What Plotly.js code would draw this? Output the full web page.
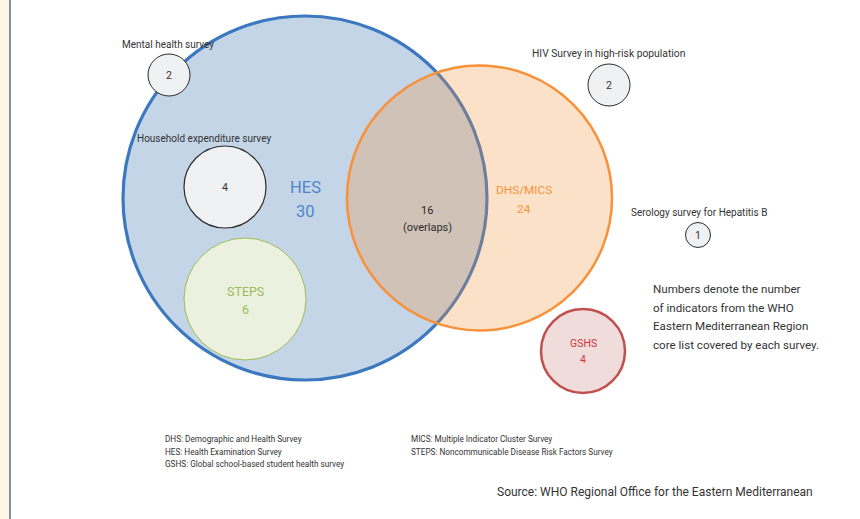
<!DOCTYPE html>
<html>
<head>
<meta charset="utf-8">
<script src="https://cdn.plot.ly/plotly-3.0.1.min.js"></script>
<style>
html,body{margin:0;padding:0;background:#ffffff;}
#chart{width:860px;height:519px;}
</style>
</head>
<body>
<div id="chart"></div>
<script>
// ---- data ----
var surveys = ["HES", "DHS/MICS", "Mental health survey", "Household expenditure survey", "STEPS", "HIV Survey in high-risk population", "Serology survey for Hepatitis B", "GSHS"];
var indicators = [30, 24, 2, 4, 6, 2, 1, 4];
var overlapCount = 16;
var overlapText = "(overlaps)";
var noteLines = ["Numbers denote the number", "of indicators from the WHO", "Eastern Mediterranean Region", "core list covered by each survey."];
var legendLeft = ["DHS: Demographic and Health Survey", "HES: Health Examination Survey", "GSHS: Global school-based student health survey"];
var legendRight = ["MICS: Multiple Indicator Cluster Survey", "STEPS: Noncommunicable Disease Risk Factors Survey"];
var sourceText = "Source: WHO Regional Office for the Eastern Mediterranean";

// ---- layout geometry (pixels) ----
var cx = [305, 479.5, 169, 225, 245, 609, 698, 583];
var cy = [198, 198, 75, 187, 299, 85, 235, 351];
var rr = [182, 132.5, 21, 41, 61, 21, 12.5, 42];
var fills = ["#c4d5e7", "rgba(245,146,60,0.28)", "#f0f1f3", "#f0f1f3", "#ebf1de", "#f0f1f3", "#f0f1f3", "#f1dcdc"];
var lines = ["#3b78bf", "#f7923a", "#2b2b2b", "#2b2b2b", "#9bbb59", "#2b2b2b", "#2b2b2b", "#c0504d"];
var lw = [3.2, 2.5, 1, 1.2, 1, 1, 1, 2.5];

var FONT = "Roboto, 'Liberation Sans', sans-serif";

var shapes = [];
// left cream strip and border line
shapes.push({type:"rect", xref:"paper", yref:"paper", x0:0, x1:9/860, y0:0, y1:1, fillcolor:"#fdf6e4", line:{width:0}, layer:"below"});
shapes.push({type:"line", xref:"paper", yref:"paper", x0:10/860, x1:10/860, y0:0, y1:1, line:{color:"#7c95a8", width:2}});
for (var i = 0; i < surveys.length; i++) {
  shapes.push({type:"circle", xref:"x", yref:"y",
    x0: cx[i]-rr[i], x1: cx[i]+rr[i], y0: cy[i]-rr[i], y1: cy[i]+rr[i],
    fillcolor: fills[i], line:{color: lines[i], width: lw[i]}, layer:"above"});
}

var ann = [];
function A(x, y, text, size, color, xanchor){
  ann.push({x:x, y:y, xref:"x", yref:"y", text:String(text), showarrow:false,
    xanchor: xanchor||"center", yanchor:"middle", align: xanchor||"center",
    font:{family:FONT, size:size, color:color}});
}
function L(x, y0, dy, arr, size, color, xanchor){
  arr.forEach(function(t, k){ A(x, y0 + k*dy, t, size, color, xanchor); });
}
// circle labels
L(cx[0], 187, 24, [surveys[0], indicators[0]], 16.5, "#4f86cc");
L(524, 190, 19, [surveys[1], indicators[1]], 11.8, "#f7923a");
L(427, 210, 17, [overlapCount, overlapText], 11, "#2b2b2b");
A(168, 44, surveys[2], 10, "#333333");
A(cx[2], cy[2], indicators[2], 10.5, "#333333");
A(204, 138, surveys[3], 10, "#333333");
A(cx[3], cy[3], indicators[3], 10.5, "#333333");
L(cx[4], 291, 18.5, [surveys[4], indicators[4]], 12.5, "#9bbb59");
A(608, 53, surveys[5], 10.3, "#333333");
A(cx[5], cy[5], indicators[5], 10.5, "#333333");
A(699, 212, surveys[6], 10, "#333333");
A(cx[6], cy[6], indicators[6], 10.5, "#333333");
L(cx[7], 343, 16.5, [surveys[7], indicators[7]], 10.5, "#d0343a");
// note
L(651, 289, 18.5, noteLines, 11.6, "#333333", "left");
// legend
L(163, 439, 12.5, legendLeft, 8.2, "#333333", "left");
L(409, 439, 12.5, legendRight, 8.2, "#333333", "left");
// source
A(654.5, 492, sourceText, 12, "#333333");

var layout = {
  width:860, height:519,
  margin:{l:0, r:0, t:0, b:0},
  paper_bgcolor:"#ffffff", plot_bgcolor:"#ffffff",
  xaxis:{range:[0,860], visible:false, fixedrange:true},
  yaxis:{range:[519,0], visible:false, fixedrange:true},
  showlegend:false,
  shapes: shapes,
  annotations: ann
};
Plotly.newPlot("chart", [{x:[], y:[], type:"scatter", mode:"markers", hoverinfo:"skip"}], layout, {displayModeBar:false, staticPlot:true});
</script>
</body>
</html>
